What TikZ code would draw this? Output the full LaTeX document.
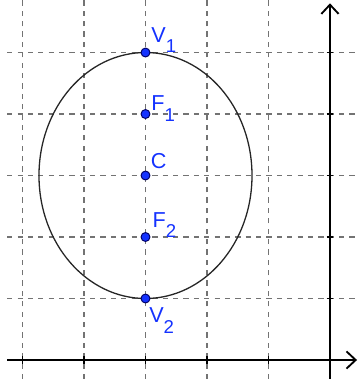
\documentclass[tikz,border=0pt]{standalone}
\usepackage{fontspec}
\setmainfont{Liberation Sans}
\usetikzlibrary{arrows.meta, positioning}
\definecolor{ptblue}{RGB}{20,50,255}
\newcommand{\lowidx}[1]{\raisebox{-5pt}{\fontsize{8.6}{10}\selectfont #1}}
\tikzset{
  gridline/.style={
    dash pattern=on 2.4pt off 2.4pt,
    draw=black!55,
    line width=0.5pt
  },
  axis/.style={
    -{Straight Barb[length=1.5mm,width=2.8mm]},
    line width=0.85pt
  },
  tick/.style={
    line width=0.85pt
  },
  curve/.style={
    draw=black!85,
    line width=0.6pt
  },
  pt/.style={
    circle,
    fill=ptblue,
    draw=black!60!blue,
    line width=0.45pt,
    inner sep=0pt,
    minimum size=1.45mm
  },
  lbl/.style={
    text=ptblue,
    inner sep=0pt,
    anchor=base west,
    font=\fontsize{10}{12}\selectfont
  }
}
\begin{document}
\begin{tikzpicture}
\useasboundingbox (-5.366,-0.309) rectangle (0.455,5.854);

% grid
\foreach \i in {-5,...,-1}
  \draw[gridline] (\i,-0.309) -- (\i,5.854);
\foreach \j in {1,...,5}
  \draw[gridline] (-5.25,\j) -- (0.455,\j);

% axes
\coordinate (xs) at (-5.25,0);
\coordinate (xe) at (0.44,0);
\coordinate (ys) at (0,-0.309);
\coordinate (ye) at (0,5.8);
\draw[axis] (xs) -- (xe);
\draw[axis] (ys) -- (ye);
\foreach \i in {-5,...,-1}
  \draw[tick] (\i,-0.06) -- (\i,0.06);
\foreach \j in {1,...,5}
  \draw[tick] (-0.055,\j) -- (0.055,\j);

% ellipse
\coordinate (ctr) at (-3,3);
\draw[curve] (ctr) ellipse [x radius=1.732, y radius=2];

% vertices, foci, centre
\node[pt] (v1) at (-3,5) {};
\node[pt] (f1) at (-3,4) {};
\node[pt] (c) at (-3,3) {};
\node[pt] (f2) at (-3,2) {};
\node[pt] (v2) at (-3,1) {};

\node[lbl, xshift=0.9mm, yshift=1.7mm] at (v1) {V\lowidx{1}};
\node[lbl, xshift=0.9mm, yshift=0.6mm] at (f1) {F\lowidx{1}};
\node[lbl, xshift=0.8mm, yshift=1.2mm] at (c) {C};
\node[lbl, xshift=1.1mm, yshift=1.6mm] at (f2) {F\lowidx{2}};
\node[lbl, xshift=0.55mm, yshift=-3.9mm] at (v2) {V\lowidx{2}};

\end{tikzpicture}
\end{document}
